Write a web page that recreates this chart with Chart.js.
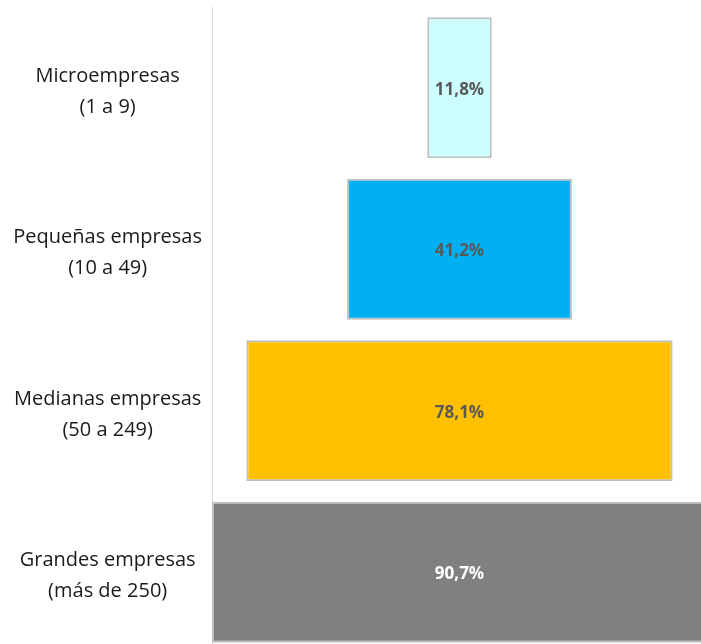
<!DOCTYPE html>
<html>
<head>
<meta charset="utf-8">
<script src="https://cdn.jsdelivr.net/npm/chart.js@4.4.1/dist/chart.umd.min.js"></script>
<style>
  html, body { margin: 0; padding: 0; overflow: hidden; background: #ffffff; }
  #wrap { position: absolute; left: 0; top: 0; width: 707px; height: 653px; }
</style>
</head>
<body>
<div id="wrap"><canvas id="c"></canvas></div>
<script>
const categories = [
  ['Microempresas', '(1 a 9)'],
  ['Pequeñas empresas', '(10 a 49)'],
  ['Medianas empresas', '(50 a 249)'],
  ['Grandes empresas', '(más de 250)']
];
const values = [11.8, 41.2, 78.1, 90.7];
const barColors = ['#CCFFFF', '#00B0F0', '#FFC000', '#808080'];
const labelColors = ['#595959', '#595959', '#595959', '#FFFFFF'];

const maxValue = Math.max(...values);
const offsets = values.map(v => (maxValue - v) / 2);

const valueLabels = {
  id: 'valueLabels',
  afterDatasetsDraw(chart) {
    const ctx = chart.ctx;
    const meta = chart.getDatasetMeta(1);
    ctx.save();
    ctx.font = 'bold 17px "Open Sans", sans-serif';
    ctx.textAlign = 'center';
    ctx.textBaseline = 'middle';
    meta.data.forEach((el, i) => {
      const p = el.getCenterPoint();
      ctx.fillStyle = labelColors[i];
      ctx.fillText(values[i].toFixed(1).replace('.', ',') + '%', p.x, p.y + 2);
    });
    ctx.restore();
  }
};

new Chart(document.getElementById('c'), {
  type: 'bar',
  data: {
    labels: categories,
    datasets: [
      {
        data: offsets,
        backgroundColor: 'rgba(0,0,0,0)',
        borderWidth: 0
      },
      {
        data: values,
        backgroundColor: barColors,
        borderColor: '#BFBFBF',
        borderWidth: 2,
        borderSkipped: false
      }
    ]
  },
  options: {
    indexAxis: 'y',
    responsive: true,
    maintainAspectRatio: false,
    animation: false,
    layout: { padding: { top: 7, right: 0, bottom: 0, left: 0 } },
    datasets: { bar: { categoryPercentage: 1, barPercentage: 0.873 } },
    plugins: { legend: { display: false }, tooltip: { enabled: false } },
    scales: {
      x: {
        stacked: true,
        display: false,
        min: 0,
        max: maxValue
      },
      y: {
        stacked: true,
        grid: { display: false, drawTicks: false },
        border: { display: true, color: '#D9D9D9', width: 1 },
        ticks: {
          crossAlign: 'center',
          padding: 10,
          labelOffset: 4,
          color: '#1A1A1A',
          font: { family: '"Open Sans", sans-serif', size: 20, lineHeight: 1.55 }
        },
        afterFit(scale) {
          scale.width = 212;
          scale.paddingTop = 0;
          scale.paddingBottom = 0;
        }
      }
    }
  },
  plugins: [valueLabels]
});
</script>
</body>
</html>
